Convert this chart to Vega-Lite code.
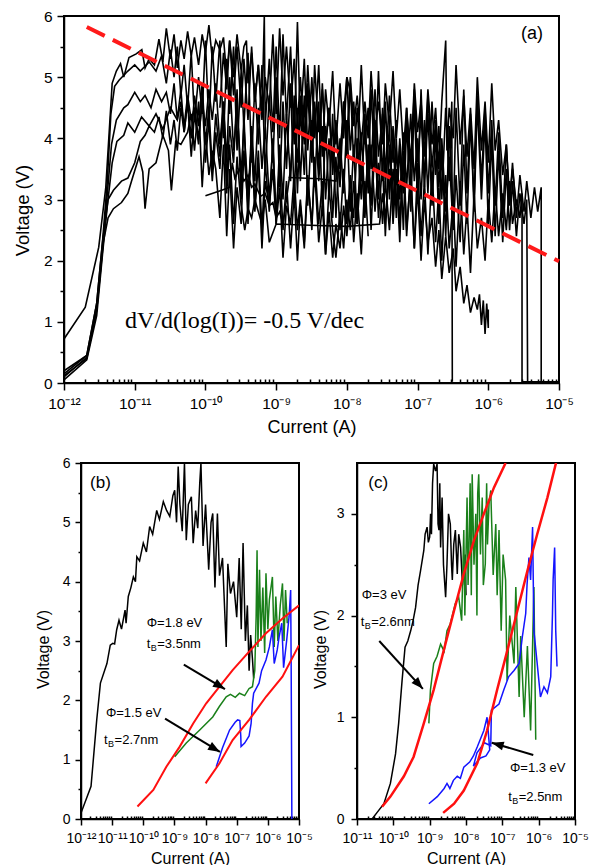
{
"$schema": "https://vega.github.io/schema/vega-lite/v6.json",
"autosize": {"type": "none"},
"padding": {"left": 64, "top": 16, "right": 529, "bottom": 849},
"background": "white",
"config": {
  "font": "Liberation Sans",
  "view": {"stroke": "black", "strokeWidth": 2},
  "axis": {"grid": false, "domainColor": "black", "domainWidth": 1.5, "tickColor": "black", "tickWidth": 1.5, "labelColor": "black", "titleColor": "black", "titleFontWeight": "normal", "labelFont": "Liberation Sans", "titleFont": "Liberation Sans", "labelOverlap": false, "labelFlush": false}
},
"datasets": {
  "a": [
{"s":1,"I":1e-12,"V":0.72},{"s":1,"I":2e-12,"V":1.24},{"s":1,"I":3.1e-12,"V":2.22},{"s":1,"I":3.9e-12,"V":3.2},{"s":1,"I":4.8e-12,"V":4.9},{"s":1,"I":5.5e-12,"V":5.1},{"s":1,"I":6.3e-12,"V":5.22},{"s":1,"I":7e-12,"V":5.0},{"s":1,"I":8.3e-12,"V":5.32},{"s":1,"I":1.05e-11,"V":5.38},{"s":1,"I":1.26e-11,"V":5.45},{"s":1,"I":1.4e-11,"V":5.15},{"s":1,"I":1.6e-11,"V":5.3},{"s":1,"I":1.9e-11,"V":5.2},{"s":1,"I":2.2e-11,"V":5.62},{"s":1,"I":2.5e-11,"V":5.25},{"s":1,"I":2.8e-11,"V":5.8},{"s":1,"I":3.2e-11,"V":5.3},{"s":1,"I":3.6e-11,"V":5.7},{"s":1,"I":4e-11,"V":5.15},{"s":1,"I":4.5e-11,"V":5.6},{"s":1,"I":5e-11,"V":5.3},{"s":1,"I":5.6e-11,"V":5.75},{"s":1,"I":6.3e-11,"V":5.35},{"s":1,"I":7e-11,"V":5.65},{"s":1,"I":8e-11,"V":5.2},{"s":1,"I":9e-11,"V":5.7},{"s":1,"I":1e-10,"V":5.4},{"s":1,"I":1.12e-10,"V":5.85},{"s":1,"I":1.25e-10,"V":5.3},{"s":1,"I":1.4e-10,"V":5.6},{"s":1,"I":1.6e-10,"V":5.45},{"s":1,"I":1.8e-10,"V":5.65},{"s":1,"I":2e-10,"V":5.0},{"s":1,"I":2.2e-10,"V":5.6},{"s":1,"I":2.5e-10,"V":4.7},{"s":1,"I":2.8e-10,"V":5.5},{"s":1,"I":3.2e-10,"V":4.5},{"s":1,"I":3.5e-10,"V":5.3},{"s":1,"I":4e-10,"V":4.3},{"s":1,"I":4.5e-10,"V":5.5},{"s":1,"I":5e-10,"V":4.6},{"s":1,"I":5.6e-10,"V":5.2},{"s":1,"I":6.3e-10,"V":4.4},{"s":1,"I":6.8e-10,"V":6.0},{"s":1,"I":7e-10,"V":4.2},{"s":1,"I":8e-10,"V":5.3},{"s":1,"I":9e-10,"V":4.1},{"s":1,"I":1e-9,"V":5.5},{"s":1,"I":1.12e-9,"V":4.0},{"s":1,"I":1.25e-9,"V":5.7},{"s":1,"I":1.4e-9,"V":4.3},{"s":1,"I":1.6e-9,"V":5.5},{"s":1,"I":1.8e-9,"V":3.9},{"s":1,"I":2e-9,"V":5.9},{"s":1,"I":2.2e-9,"V":4.2},{"s":1,"I":2.5e-9,"V":5.3},{"s":1,"I":2.8e-9,"V":3.8},{"s":1,"I":3.2e-9,"V":5.0},{"s":1,"I":3.5e-9,"V":4.0},{"s":1,"I":4e-9,"V":5.2},{"s":1,"I":4.5e-9,"V":3.7},{"s":1,"I":5e-9,"V":4.8},{"s":1,"I":5.6e-9,"V":4.2},{"s":1,"I":6.3e-9,"V":5.1},{"s":1,"I":7e-9,"V":3.9},{"s":1,"I":8e-9,"V":4.9},{"s":1,"I":9e-9,"V":4.0},{"s":1,"I":1e-8,"V":5.0},{"s":1,"I":1.12e-8,"V":3.8},{"s":1,"I":1.25e-8,"V":4.6},{"s":1,"I":1.4e-8,"V":3.6},{"s":1,"I":1.6e-8,"V":5.2},{"s":1,"I":1.8e-8,"V":3.9},{"s":1,"I":2e-8,"V":4.5},{"s":1,"I":2.2e-8,"V":3.5},{"s":1,"I":2.5e-8,"V":4.8},{"s":1,"I":2.8e-8,"V":3.7},{"s":1,"I":3.2e-8,"V":4.4},{"s":1,"I":3.5e-8,"V":3.4},{"s":1,"I":4e-8,"V":4.7},{"s":1,"I":4.5e-8,"V":3.6},{"s":1,"I":5e-8,"V":4.3},
{"s":2,"I":1e-12,"V":0.15},{"s":2,"I":2.1e-12,"V":0.45},{"s":2,"I":2.9e-12,"V":1.3},{"s":2,"I":3.5e-12,"V":2.3},{"s":2,"I":4.1e-12,"V":3.3},{"s":2,"I":4.6e-12,"V":4.4},{"s":2,"I":5.2e-12,"V":4.85},{"s":2,"I":6e-12,"V":4.95},{"s":2,"I":8e-12,"V":5.1},{"s":2,"I":1e-11,"V":5.2},{"s":2,"I":1.2e-11,"V":5.1},{"s":2,"I":1.6e-11,"V":5.25},{"s":2,"I":2e-11,"V":5.1},{"s":2,"I":2.4e-11,"V":5.35},{"s":2,"I":2.8e-11,"V":4.9},{"s":2,"I":3.2e-11,"V":5.45},{"s":2,"I":3.6e-11,"V":5.0},{"s":2,"I":4e-11,"V":5.5},{"s":2,"I":4.5e-11,"V":4.7},{"s":2,"I":5e-11,"V":5.2},{"s":2,"I":5.6e-11,"V":4.5},{"s":2,"I":6.3e-11,"V":5.4},{"s":2,"I":7e-11,"V":4.3},{"s":2,"I":8e-11,"V":5.0},{"s":2,"I":9e-11,"V":4.4},{"s":2,"I":1e-10,"V":5.6},{"s":2,"I":1.12e-10,"V":4.2},{"s":2,"I":1.25e-10,"V":5.5},{"s":2,"I":1.4e-10,"V":4.6},{"s":2,"I":1.6e-10,"V":5.6},{"s":2,"I":1.8e-10,"V":4.0},{"s":2,"I":2e-10,"V":5.3},{"s":2,"I":2.2e-10,"V":4.4},{"s":2,"I":2.5e-10,"V":5.5},{"s":2,"I":2.8e-10,"V":3.8},{"s":2,"I":3.2e-10,"V":5.1},{"s":2,"I":3.5e-10,"V":4.2},{"s":2,"I":4e-10,"V":5.4},{"s":2,"I":4.5e-10,"V":3.6},{"s":2,"I":5e-10,"V":4.9},{"s":2,"I":5.6e-10,"V":3.9},{"s":2,"I":6.3e-10,"V":5.2},{"s":2,"I":7e-10,"V":3.4},{"s":2,"I":8e-10,"V":4.7},{"s":2,"I":9e-10,"V":3.6},{"s":2,"I":1e-9,"V":5.0},{"s":2,"I":1.12e-9,"V":3.2},{"s":2,"I":1.25e-9,"V":4.6},{"s":2,"I":1.4e-9,"V":3.5},{"s":2,"I":1.6e-9,"V":4.9},{"s":2,"I":1.8e-9,"V":3.0},{"s":2,"I":2e-9,"V":4.5},{"s":2,"I":2.2e-9,"V":3.3},{"s":2,"I":2.5e-9,"V":4.7},{"s":2,"I":2.8e-9,"V":2.9},{"s":2,"I":3.2e-9,"V":4.3},{"s":2,"I":3.5e-9,"V":3.2},{"s":2,"I":4e-9,"V":4.6},{"s":2,"I":4.5e-9,"V":2.8},{"s":2,"I":5e-9,"V":4.2},{"s":2,"I":5.6e-9,"V":3.0},{"s":2,"I":6.3e-9,"V":4.4},{"s":2,"I":7e-9,"V":2.7},{"s":2,"I":8e-9,"V":4.0},{"s":2,"I":9e-9,"V":3.1},{"s":2,"I":1e-8,"V":4.3},{"s":2,"I":1.12e-8,"V":2.8},{"s":2,"I":1.25e-8,"V":3.9},{"s":2,"I":1.4e-8,"V":2.6},{"s":2,"I":1.6e-8,"V":4.1},{"s":2,"I":1.8e-8,"V":2.9},{"s":2,"I":2e-8,"V":3.8},{"s":2,"I":2.2e-8,"V":2.5},{"s":2,"I":2.5e-8,"V":4.0},{"s":2,"I":2.8e-8,"V":2.7},{"s":2,"I":3.2e-8,"V":3.6},{"s":2,"I":3.5e-8,"V":2.4},{"s":2,"I":4e-8,"V":3.9},{"s":2,"I":4.5e-8,"V":2.6},{"s":2,"I":5e-8,"V":3.5},{"s":2,"I":5.6e-8,"V":2.3},{"s":2,"I":6.3e-8,"V":3.8},{"s":2,"I":7e-8,"V":2.5},{"s":2,"I":8e-8,"V":3.4},{"s":2,"I":9e-8,"V":2.2},{"s":2,"I":1e-7,"V":3.6},{"s":2,"I":1.12e-7,"V":2.4},{"s":2,"I":1.25e-7,"V":3.3},{"s":2,"I":1.4e-7,"V":2.1},{"s":2,"I":1.6e-7,"V":3.5},{"s":2,"I":1.8e-7,"V":2.3},{"s":2,"I":2e-7,"V":3.2},{"s":2,"I":2.2e-7,"V":2.0},{"s":2,"I":2.5e-7,"V":3.4},{"s":2,"I":2.8e-7,"V":2.2},{"s":2,"I":3.2e-7,"V":3.0},{"s":2,"I":3.5e-7,"V":1.9},{"s":2,"I":4e-7,"V":3.3},{"s":2,"I":4.5e-7,"V":2.1},{"s":2,"I":5e-7,"V":2.9},{"s":2,"I":5.6e-7,"V":1.8},{"s":2,"I":6.3e-7,"V":3.1},{"s":2,"I":7e-7,"V":2.2},{"s":2,"I":8e-7,"V":2.7},{"s":2,"I":9e-7,"V":2.0},{"s":2,"I":1e-6,"V":3.0},{"s":2,"I":1.12e-6,"V":2.3},{"s":2,"I":1.25e-6,"V":3.2},{"s":2,"I":1.4e-6,"V":2.4},{"s":2,"I":1.6e-6,"V":3.1},{"s":2,"I":1.8e-6,"V":2.5},{"s":2,"I":2e-6,"V":3.3},{"s":2,"I":2.2e-6,"V":2.6},{"s":2,"I":2.5e-6,"V":3.0},{"s":2,"I":2.8e-6,"V":2.7},{"s":2,"I":3e-6,"V":3.1},{"s":2,"I":3e-6,"V":0.02},{"s":2,"I":1e-5,"V":0.02},
{"s":3,"I":1e-12,"V":0.1},{"s":3,"I":2.1e-12,"V":0.42},{"s":3,"I":2.9e-12,"V":1.2},{"s":3,"I":3.5e-12,"V":2.2},{"s":3,"I":4.1e-12,"V":3.1},{"s":3,"I":4.7e-12,"V":3.9},{"s":3,"I":5.5e-12,"V":4.3},{"s":3,"I":7e-12,"V":4.5},{"s":3,"I":8e-12,"V":4.55},{"s":3,"I":1e-11,"V":4.75},{"s":3,"I":1.2e-11,"V":4.6},{"s":3,"I":1.4e-11,"V":4.7},{"s":3,"I":1.7e-11,"V":4.5},{"s":3,"I":2e-11,"V":4.8},{"s":3,"I":2.4e-11,"V":4.6},{"s":3,"I":2.8e-11,"V":4.75},{"s":3,"I":3.2e-11,"V":4.4},{"s":3,"I":3.6e-11,"V":4.9},{"s":3,"I":4e-11,"V":4.3},{"s":3,"I":4.5e-11,"V":4.8},{"s":3,"I":5e-11,"V":4.1},{"s":3,"I":5.6e-11,"V":4.6},{"s":3,"I":6.3e-11,"V":4.0},{"s":3,"I":7e-11,"V":4.7},{"s":3,"I":8e-11,"V":4.2},{"s":3,"I":9e-11,"V":4.9},{"s":3,"I":1e-10,"V":3.9},{"s":3,"I":1.12e-10,"V":4.5},{"s":3,"I":1.25e-10,"V":3.5},{"s":3,"I":1.4e-10,"V":4.4},{"s":3,"I":1.6e-10,"V":3.7},{"s":3,"I":1.8e-10,"V":4.6},{"s":3,"I":2e-10,"V":3.3},{"s":3,"I":2.2e-10,"V":4.2},{"s":3,"I":2.5e-10,"V":3.6},{"s":3,"I":2.8e-10,"V":4.8},{"s":3,"I":3.2e-10,"V":3.0},{"s":3,"I":3.5e-10,"V":4.4},{"s":3,"I":4e-10,"V":2.6},{"s":3,"I":4.5e-10,"V":4.1},{"s":3,"I":5e-10,"V":2.9},{"s":3,"I":5.6e-10,"V":3.8},{"s":3,"I":6.3e-10,"V":2.5},{"s":3,"I":7e-10,"V":3.6},{"s":3,"I":8e-10,"V":2.8},{"s":3,"I":9e-10,"V":4.0},{"s":3,"I":1e-9,"V":2.6},{"s":3,"I":1.12e-9,"V":3.9},{"s":3,"I":1.25e-9,"V":3.0},{"s":3,"I":1.4e-9,"V":4.4},{"s":3,"I":1.6e-9,"V":3.3},{"s":3,"I":1.8e-9,"V":4.7},{"s":3,"I":2e-9,"V":3.1},{"s":3,"I":2.2e-9,"V":4.5},{"s":3,"I":2.5e-9,"V":3.4},{"s":3,"I":2.8e-9,"V":4.9},{"s":3,"I":3.2e-9,"V":3.6},{"s":3,"I":3.5e-9,"V":4.5},{"s":3,"I":4e-9,"V":3.3},{"s":3,"I":4.5e-9,"V":4.2},{"s":3,"I":5e-9,"V":3.0},{"s":3,"I":5.6e-9,"V":4.0},{"s":3,"I":6.3e-9,"V":2.7},{"s":3,"I":7e-9,"V":3.7},{"s":3,"I":8e-9,"V":2.5},{"s":3,"I":9e-9,"V":3.5},{"s":3,"I":1e-8,"V":2.6},{"s":3,"I":1.12e-8,"V":3.4},{"s":3,"I":1.25e-8,"V":2.3},{"s":3,"I":1.4e-8,"V":3.1},{"s":3,"I":1.6e-8,"V":2.1},{"s":3,"I":1.8e-8,"V":3.3},{"s":3,"I":2e-8,"V":2.4},
{"s":4,"I":1e-12,"V":0.05},{"s":4,"I":2.1e-12,"V":0.38},{"s":4,"I":2.9e-12,"V":1.1},{"s":4,"I":3.5e-12,"V":2.1},{"s":4,"I":4.1e-12,"V":2.9},{"s":4,"I":4.8e-12,"V":3.6},{"s":4,"I":5.6e-12,"V":3.95},{"s":4,"I":7e-12,"V":4.05},{"s":4,"I":8e-12,"V":4.25},{"s":4,"I":1e-11,"V":4.1},{"s":4,"I":1.25e-11,"V":4.35},{"s":4,"I":1.6e-11,"V":4.2},{"s":4,"I":2e-11,"V":4.4},{"s":4,"I":2.5e-11,"V":4.15},{"s":4,"I":3.2e-11,"V":4.5},{"s":4,"I":4e-11,"V":4.3},{"s":4,"I":4.5e-11,"V":4.6},{"s":4,"I":5e-11,"V":4.2},{"s":4,"I":5.6e-11,"V":4.7},{"s":4,"I":6.3e-11,"V":4.3},{"s":4,"I":7e-11,"V":4.5},{"s":4,"I":8e-11,"V":4.0},{"s":4,"I":9e-11,"V":4.6},{"s":4,"I":1e-10,"V":4.2},{"s":4,"I":1.12e-10,"V":4.8},{"s":4,"I":1.25e-10,"V":4.3},{"s":4,"I":1.4e-10,"V":4.9},{"s":4,"I":1.6e-10,"V":3.9},{"s":4,"I":1.8e-10,"V":4.6},{"s":4,"I":2e-10,"V":3.6},{"s":4,"I":2.2e-10,"V":5.0},{"s":4,"I":2.5e-10,"V":3.8},{"s":4,"I":2.8e-10,"V":4.5},{"s":4,"I":3.2e-10,"V":3.4},{"s":4,"I":3.5e-10,"V":4.2},{"s":4,"I":4e-10,"V":3.1},{"s":4,"I":4.5e-10,"V":3.9},{"s":4,"I":5e-10,"V":2.8},{"s":4,"I":5.6e-10,"V":3.6},{"s":4,"I":6.3e-10,"V":2.2},{"s":4,"I":7e-10,"V":3.3},{"s":4,"I":8e-10,"V":2.9},{"s":4,"I":9e-10,"V":3.5},{"s":4,"I":1e-9,"V":2.6},{"s":4,"I":1.12e-9,"V":3.2},{"s":4,"I":1.25e-9,"V":2.05},{"s":4,"I":1.4e-9,"V":2.9},{"s":4,"I":1.6e-9,"V":2.6},{"s":4,"I":1.8e-9,"V":3.4},{"s":4,"I":2e-9,"V":2.5},{"s":4,"I":2.2e-9,"V":3.0},{"s":4,"I":2.5e-9,"V":2.2},{"s":4,"I":2.8e-9,"V":3.3},{"s":4,"I":3.2e-9,"V":2.6},{"s":4,"I":3.5e-9,"V":3.5},{"s":4,"I":4e-9,"V":2.3},{"s":4,"I":4.5e-9,"V":2.9},{"s":4,"I":5e-9,"V":2.1},{"s":4,"I":5.6e-9,"V":3.2},{"s":4,"I":6.3e-9,"V":2.5},{"s":4,"I":7e-9,"V":2.05},{"s":4,"I":8e-9,"V":2.8},{"s":4,"I":9e-9,"V":2.2},{"s":4,"I":1e-8,"V":3.0},{"s":4,"I":1.12e-8,"V":2.5},{"s":4,"I":1.25e-8,"V":3.3},{"s":4,"I":1.4e-8,"V":2.6},{"s":4,"I":1.6e-8,"V":3.6},{"s":4,"I":1.8e-8,"V":2.7},{"s":4,"I":2e-8,"V":3.9},{"s":4,"I":2.2e-8,"V":2.9},{"s":4,"I":2.5e-8,"V":4.3},{"s":4,"I":2.8e-8,"V":3.0},{"s":4,"I":3.2e-8,"V":4.5},{"s":4,"I":3.5e-8,"V":3.2},{"s":4,"I":4e-8,"V":4.2},{"s":4,"I":4.5e-8,"V":2.8},{"s":4,"I":5e-8,"V":4.0},{"s":4,"I":5.6e-8,"V":2.6},{"s":4,"I":6.3e-8,"V":3.7},{"s":4,"I":7e-8,"V":2.4},{"s":4,"I":8e-8,"V":3.5},{"s":4,"I":9e-8,"V":2.2},{"s":4,"I":1e-7,"V":3.2},{"s":4,"I":1.12e-7,"V":2.0},{"s":4,"I":1.25e-7,"V":3.0},{"s":4,"I":1.4e-7,"V":2.3},{"s":4,"I":1.6e-7,"V":2.7},{"s":4,"I":1.8e-7,"V":1.9},{"s":4,"I":2e-7,"V":2.5},{"s":4,"I":2.2e-7,"V":1.7},{"s":4,"I":2.5e-7,"V":2.4},{"s":4,"I":2.8e-7,"V":1.8},{"s":4,"I":3.2e-7,"V":2.2},{"s":4,"I":3.5e-7,"V":1.5},{"s":4,"I":4e-7,"V":1.9},{"s":4,"I":4.5e-7,"V":1.3},{"s":4,"I":5e-7,"V":1.6},{"s":4,"I":5.6e-7,"V":1.15},{"s":4,"I":6.3e-7,"V":1.4},{"s":4,"I":7e-7,"V":1.2},{"s":4,"I":7.5e-7,"V":1.45},{"s":4,"I":8e-7,"V":0.95},{"s":4,"I":8.5e-7,"V":1.35},{"s":4,"I":9e-7,"V":0.8},{"s":4,"I":9.5e-7,"V":1.3},{"s":4,"I":1e-6,"V":0.9},{"s":4,"I":1e-6,"V":1.2},
{"s":5,"I":1e-12,"V":0.2},{"s":5,"I":2.1e-12,"V":0.45},{"s":5,"I":2.9e-12,"V":1.3},{"s":5,"I":3.5e-12,"V":2.3},{"s":5,"I":4.2e-12,"V":3.0},{"s":5,"I":5e-12,"V":3.15},{"s":5,"I":6.5e-12,"V":3.3},{"s":5,"I":8e-12,"V":3.35},{"s":5,"I":1e-11,"V":3.6},{"s":5,"I":1.2e-11,"V":3.95},{"s":5,"I":1.4e-11,"V":4.05},{"s":5,"I":1.6e-11,"V":4.2},{"s":5,"I":1.9e-11,"V":4.1},{"s":5,"I":2.2e-11,"V":4.35},{"s":5,"I":2.5e-11,"V":4.0},{"s":5,"I":2.8e-11,"V":4.45},{"s":5,"I":3.2e-11,"V":3.9},{"s":5,"I":3.6e-11,"V":4.3},{"s":5,"I":4e-11,"V":3.8},{"s":5,"I":4.5e-11,"V":4.5},{"s":5,"I":5e-11,"V":4.1},{"s":5,"I":5.6e-11,"V":4.6},{"s":5,"I":6.3e-11,"V":3.7},{"s":5,"I":7e-11,"V":4.4},{"s":5,"I":8e-11,"V":3.9},{"s":5,"I":9e-11,"V":4.7},{"s":5,"I":1e-10,"V":3.6},{"s":5,"I":1.12e-10,"V":4.3},{"s":5,"I":1.25e-10,"V":3.3},{"s":5,"I":1.4e-10,"V":4.1},{"s":5,"I":1.6e-10,"V":3.5},{"s":5,"I":1.8e-10,"V":4.5},{"s":5,"I":2e-10,"V":3.1},{"s":5,"I":2.2e-10,"V":3.9},{"s":5,"I":2.5e-10,"V":2.6},{"s":5,"I":2.8e-10,"V":3.7},{"s":5,"I":3.2e-10,"V":2.9},{"s":5,"I":3.6e-10,"V":2.5},{"s":5,"I":4e-10,"V":2.85},{"s":5,"I":4.5e-10,"V":2.7},{"s":5,"I":5e-10,"V":3.0},{"s":5,"I":5.6e-10,"V":2.8},{"s":5,"I":6.3e-10,"V":2.6},{"s":5,"I":7e-10,"V":3.0},{"s":5,"I":8e-10,"V":2.3},{"s":5,"I":1e-9,"V":2.6},{"s":5,"I":3e-9,"V":2.58},{"s":5,"I":1e-8,"V":2.56},{"s":5,"I":2.9e-8,"V":2.6},{"s":5,"I":3.2e-8,"V":3.1},{"s":5,"I":3.5e-8,"V":2.7},{"s":5,"I":4e-8,"V":3.5},{"s":5,"I":4.5e-8,"V":2.9},{"s":5,"I":5e-8,"V":3.8},{"s":5,"I":5.6e-8,"V":3.0},{"s":5,"I":6.3e-8,"V":4.1},{"s":5,"I":7e-8,"V":3.2},{"s":5,"I":8e-8,"V":4.4},{"s":5,"I":9e-8,"V":3.3},{"s":5,"I":1e-7,"V":4.0},{"s":5,"I":1.12e-7,"V":3.0},{"s":5,"I":1.25e-7,"V":4.3},{"s":5,"I":1.4e-7,"V":3.1},{"s":5,"I":1.6e-7,"V":4.6},{"s":5,"I":1.8e-7,"V":3.4},{"s":5,"I":2e-7,"V":4.2},{"s":5,"I":2.2e-7,"V":3.0},{"s":5,"I":2.5e-7,"V":4.5},{"s":5,"I":2.8e-7,"V":3.3},{"s":5,"I":3.05e-7,"V":4.6},{"s":5,"I":3.1e-7,"V":0.02},
{"s":6,"I":1e-12,"V":0.12},{"s":6,"I":2.1e-12,"V":0.4},{"s":6,"I":2.9e-12,"V":1.2},{"s":6,"I":3.6e-12,"V":2.3},{"s":6,"I":4.2e-12,"V":2.7},{"s":6,"I":5e-12,"V":2.85},{"s":6,"I":6.5e-12,"V":2.95},{"s":6,"I":8e-12,"V":3.1},{"s":6,"I":9e-12,"V":3.3},{"s":6,"I":1.15e-11,"V":3.7},{"s":6,"I":1.3e-11,"V":3.45},{"s":6,"I":1.4e-11,"V":2.85},{"s":6,"I":1.6e-11,"V":3.5},{"s":6,"I":2e-11,"V":3.6},{"s":6,"I":2.5e-11,"V":4.05},{"s":6,"I":3e-11,"V":3.8},{"s":6,"I":3.3e-11,"V":3.15},{"s":6,"I":3.8e-11,"V":3.95},{"s":6,"I":4.5e-11,"V":3.9},{"s":6,"I":5.6e-11,"V":4.1},{"s":6,"I":6.3e-11,"V":4.4},{"s":6,"I":7e-11,"V":3.8},{"s":6,"I":8e-11,"V":4.6},{"s":6,"I":9e-11,"V":3.2},{"s":6,"I":1e-10,"V":4.1},{"s":6,"I":1.12e-10,"V":3.4},{"s":6,"I":1.25e-10,"V":3.8},{"s":6,"I":1.4e-10,"V":3.5},{"s":6,"I":1.6e-10,"V":2.7},{"s":6,"I":1.8e-10,"V":3.9},{"s":6,"I":2e-10,"V":2.4},{"s":6,"I":2.2e-10,"V":3.5},{"s":6,"I":2.5e-10,"V":2.2},{"s":6,"I":2.8e-10,"V":3.2},{"s":6,"I":3.2e-10,"V":2.6},{"s":6,"I":3.5e-10,"V":3.8},{"s":6,"I":4e-10,"V":2.9},{"s":6,"I":4.5e-10,"V":4.2},{"s":6,"I":5e-10,"V":3.3},{"s":6,"I":5.6e-10,"V":4.5},{"s":6,"I":6.3e-10,"V":3.5},{"s":6,"I":7e-10,"V":4.2},{"s":6,"I":8e-10,"V":3.0},{"s":6,"I":9e-10,"V":3.9},{"s":6,"I":1e-9,"V":2.7},{"s":6,"I":1.12e-9,"V":3.6},{"s":6,"I":1.25e-9,"V":2.5},{"s":6,"I":1.4e-9,"V":3.3},{"s":6,"I":1.6e-9,"V":2.2},{"s":6,"I":1.8e-9,"V":3.1},{"s":6,"I":2e-9,"V":2.0},{"s":6,"I":2.2e-9,"V":2.9},{"s":6,"I":2.5e-9,"V":2.3},{"s":6,"I":2.8e-9,"V":3.4},{"s":6,"I":3.2e-9,"V":2.5},{"s":6,"I":3.5e-9,"V":3.7},{"s":6,"I":4e-9,"V":2.6},{"s":6,"I":4.5e-9,"V":3.3},{"s":6,"I":5e-9,"V":2.1},{"s":6,"I":5.6e-9,"V":2.8},{"s":6,"I":6.3e-9,"V":2.05},{"s":6,"I":7e-9,"V":2.6},{"s":6,"I":8e-9,"V":2.2},{"s":6,"I":9e-9,"V":2.9},{"s":6,"I":1e-8,"V":2.4},{"s":6,"I":1.12e-8,"V":3.1},{"s":6,"I":1.25e-8,"V":2.7},{"s":6,"I":1.4e-8,"V":4.0},{"s":6,"I":1.6e-8,"V":3.0},{"s":6,"I":1.8e-8,"V":4.4},{"s":6,"I":2e-8,"V":3.2},{"s":6,"I":2.2e-8,"V":4.8},{"s":6,"I":2.5e-8,"V":3.5},{"s":6,"I":2.8e-8,"V":5.1},{"s":6,"I":3.2e-8,"V":3.3},{"s":6,"I":3.5e-8,"V":4.6},{"s":6,"I":4e-8,"V":3.0},{"s":6,"I":4.5e-8,"V":4.2},{"s":6,"I":5e-8,"V":2.7},{"s":6,"I":5.6e-8,"V":3.9},{"s":6,"I":6.3e-8,"V":2.5},{"s":6,"I":7e-8,"V":4.3},{"s":6,"I":8e-8,"V":2.8},{"s":6,"I":9e-8,"V":4.6},{"s":6,"I":1e-7,"V":3.0},{"s":6,"I":1.12e-7,"V":4.8},{"s":6,"I":1.25e-7,"V":3.2},{"s":6,"I":1.4e-7,"V":4.4},{"s":6,"I":1.6e-7,"V":2.9},{"s":6,"I":1.8e-7,"V":4.1},{"s":6,"I":2e-7,"V":2.6},{"s":6,"I":2.2e-7,"V":3.8},{"s":6,"I":2.5e-7,"V":2.4},{"s":6,"I":2.8e-7,"V":4.2},{"s":6,"I":3.2e-7,"V":2.7},{"s":6,"I":3.5e-7,"V":4.5},{"s":6,"I":4e-7,"V":2.9},{"s":6,"I":4.5e-7,"V":4.8},{"s":6,"I":5e-7,"V":3.1},{"s":6,"I":5.6e-7,"V":4.4},{"s":6,"I":6.3e-7,"V":2.8},{"s":6,"I":7e-7,"V":4.6},{"s":6,"I":8e-7,"V":3.0},{"s":6,"I":9e-7,"V":4.3},{"s":6,"I":1e-6,"V":2.6},{"s":6,"I":1.12e-6,"V":4.0},{"s":6,"I":1.25e-6,"V":2.4},{"s":6,"I":1.4e-6,"V":3.8},{"s":6,"I":1.6e-6,"V":2.3},{"s":6,"I":1.8e-6,"V":3.5},{"s":6,"I":2e-6,"V":2.5},{"s":6,"I":2.2e-6,"V":3.3},{"s":6,"I":2.5e-6,"V":2.4},{"s":6,"I":2.8e-6,"V":3.1},{"s":6,"I":3.2e-6,"V":2.6},{"s":6,"I":3.5e-6,"V":3.0},{"s":6,"I":3.6e-6,"V":0.02},
{"s":7,"I":1e-10,"V":3.06},{"s":7,"I":1.7e-10,"V":3.15},{"s":7,"I":2.2e-10,"V":3.2},{"s":7,"I":2.4e-10,"V":3.6},{"s":7,"I":2.6e-10,"V":3.35},{"s":7,"I":3e-10,"V":3.5},{"s":7,"I":3.5e-10,"V":3.3},{"s":7,"I":4e-10,"V":3.4},{"s":7,"I":4.5e-10,"V":3.2},{"s":7,"I":5e-10,"V":3.25},{"s":7,"I":6e-10,"V":3.05},{"s":7,"I":7e-10,"V":3.1},{"s":7,"I":8e-10,"V":2.9},{"s":7,"I":9e-10,"V":2.95},{"s":7,"I":1e-9,"V":2.7},{"s":7,"I":1.12e-9,"V":2.8},{"s":7,"I":1.25e-9,"V":2.6},{"s":7,"I":1.4e-9,"V":3.0},{"s":7,"I":1.6e-9,"V":3.5},{"s":7,"I":1.8e-9,"V":4.3},{"s":7,"I":2e-9,"V":3.6},{"s":7,"I":2.2e-9,"V":4.7},{"s":7,"I":2.5e-9,"V":3.9},{"s":7,"I":2.8e-9,"V":5.2},{"s":7,"I":3.2e-9,"V":4.0},{"s":7,"I":3.5e-9,"V":4.6},{"s":7,"I":4e-9,"V":3.5},{"s":7,"I":4.5e-9,"V":4.9},{"s":7,"I":5e-9,"V":3.8},{"s":7,"I":5.6e-9,"V":4.5},{"s":7,"I":6.3e-9,"V":3.4},{"s":7,"I":7e-9,"V":4.2},{"s":7,"I":8e-9,"V":3.2},{"s":7,"I":9e-9,"V":4.6},{"s":7,"I":1e-8,"V":3.7},{"s":7,"I":1.12e-8,"V":4.9},{"s":7,"I":1.25e-8,"V":3.6},{"s":7,"I":1.4e-8,"V":4.5},{"s":7,"I":1.6e-8,"V":3.3},{"s":7,"I":1.8e-8,"V":4.2},{"s":7,"I":2e-8,"V":3.1},{"s":7,"I":2.2e-8,"V":3.9},{"s":7,"I":2.5e-8,"V":2.8},{"s":7,"I":2.8e-8,"V":3.6},{"s":7,"I":3.2e-8,"V":2.6},{"s":7,"I":3.5e-8,"V":3.3},{"s":7,"I":4e-8,"V":2.5},{"s":7,"I":4.5e-8,"V":3.5},{"s":7,"I":5e-8,"V":2.9},{"s":7,"I":5.6e-8,"V":4.0},{"s":7,"I":6.3e-8,"V":3.1},{"s":7,"I":7e-8,"V":4.5},{"s":7,"I":8e-8,"V":3.4},{"s":7,"I":9e-8,"V":4.8},{"s":7,"I":1e-7,"V":3.6},{"s":7,"I":1.12e-7,"V":4.4},{"s":7,"I":1.25e-7,"V":3.3},{"s":7,"I":1.4e-7,"V":4.7},{"s":7,"I":1.6e-7,"V":3.5},{"s":7,"I":1.8e-7,"V":4.3},{"s":7,"I":2e-7,"V":3.2},{"s":7,"I":2.2e-7,"V":4.0},{"s":7,"I":2.5e-7,"V":2.8},{"s":7,"I":2.8e-7,"V":3.7},{"s":7,"I":3.2e-7,"V":2.5},{"s":7,"I":3.5e-7,"V":3.4},{"s":7,"I":4e-7,"V":2.3},{"s":7,"I":4.5e-7,"V":3.9},{"s":7,"I":5e-7,"V":2.6},{"s":7,"I":5.6e-7,"V":4.3},{"s":7,"I":6.3e-7,"V":3.0},{"s":7,"I":7e-7,"V":4.7},{"s":7,"I":8e-7,"V":3.3},{"s":7,"I":9e-7,"V":4.5},{"s":7,"I":1e-6,"V":3.1},{"s":7,"I":1.12e-6,"V":4.3},{"s":7,"I":1.25e-6,"V":2.9},{"s":7,"I":1.4e-6,"V":4.1},{"s":7,"I":1.6e-6,"V":2.7},{"s":7,"I":1.8e-6,"V":3.9},{"s":7,"I":2e-6,"V":2.9},{"s":7,"I":2.2e-6,"V":3.6},{"s":7,"I":2.5e-6,"V":2.7},{"s":7,"I":2.8e-6,"V":3.4},{"s":7,"I":3.2e-6,"V":2.8},{"s":7,"I":3.5e-6,"V":3.3},{"s":7,"I":4e-6,"V":2.7},{"s":7,"I":4.5e-6,"V":3.2},{"s":7,"I":5e-6,"V":2.8},{"s":7,"I":5.6e-6,"V":3.2},{"s":7,"I":5.6e-6,"V":0.02},{"s":7,"I":1e-5,"V":0.02},
{"s":8,"I":1.6e-10,"V":4.5},{"s":8,"I":1.8e-10,"V":5.4},{"s":8,"I":2e-10,"V":4.8},{"s":8,"I":2.2e-10,"V":5.6},{"s":8,"I":2.5e-10,"V":5.0},{"s":8,"I":2.8e-10,"V":5.7},{"s":8,"I":3.2e-10,"V":5.1},{"s":8,"I":3.5e-10,"V":5.5},{"s":8,"I":3.8e-10,"V":5.6},{"s":8,"I":4e-10,"V":4.9},{"s":8,"I":4.5e-10,"V":5.4},{"s":8,"I":5e-10,"V":4.6},{"s":8,"I":5.6e-10,"V":5.2},{"s":8,"I":6.3e-10,"V":4.3},{"s":8,"I":7e-10,"V":5.0},{"s":8,"I":8e-10,"V":4.5},{"s":8,"I":9e-10,"V":5.7},{"s":8,"I":1e-9,"V":4.4},{"s":8,"I":1.12e-9,"V":5.8},{"s":8,"I":1.25e-9,"V":4.7},{"s":8,"I":1.4e-9,"V":5.5},{"s":8,"I":1.6e-9,"V":4.5},{"s":8,"I":1.8e-9,"V":5.3},{"s":8,"I":2e-9,"V":4.2},{"s":8,"I":2.2e-9,"V":5.0},{"s":8,"I":2.5e-9,"V":4.0},{"s":8,"I":2.8e-9,"V":4.7},{"s":8,"I":3.2e-9,"V":3.8},{"s":8,"I":3.5e-9,"V":5.2},{"s":8,"I":4e-9,"V":4.1},{"s":8,"I":4.5e-9,"V":4.8},{"s":8,"I":5e-9,"V":3.9},{"s":8,"I":5.6e-9,"V":4.5},{"s":8,"I":6.3e-9,"V":3.6},{"s":8,"I":7e-9,"V":4.3},{"s":8,"I":8e-9,"V":3.5},{"s":8,"I":9e-9,"V":4.6},{"s":8,"I":1e-8,"V":4.0},{"s":8,"I":1.12e-8,"V":5.0},{"s":8,"I":1.25e-8,"V":4.2},{"s":8,"I":1.4e-8,"V":4.7},{"s":8,"I":1.6e-8,"V":3.9},{"s":8,"I":1.8e-8,"V":4.6},{"s":8,"I":2e-8,"V":4.0},{"s":8,"I":2.2e-8,"V":5.1},{"s":8,"I":2.5e-8,"V":4.1},{"s":8,"I":2.8e-8,"V":4.6},{"s":8,"I":3.2e-8,"V":3.9},{"s":8,"I":3.5e-8,"V":4.9},{"s":8,"I":4e-8,"V":4.2},{"s":8,"I":4.5e-8,"V":5.1},{"s":8,"I":5e-8,"V":4.0},{"s":8,"I":5.6e-8,"V":4.8},{"s":8,"I":6.3e-8,"V":3.8},{"s":8,"I":7e-8,"V":4.5},{"s":8,"I":8e-8,"V":3.6},{"s":8,"I":9e-8,"V":4.9},{"s":8,"I":1e-7,"V":4.1},{"s":8,"I":1.12e-7,"V":4.6},{"s":8,"I":1.25e-7,"V":3.7},{"s":8,"I":1.4e-7,"V":4.8},{"s":8,"I":1.6e-7,"V":3.9},{"s":8,"I":1.8e-7,"V":4.5},{"s":8,"I":2e-7,"V":3.5},{"s":8,"I":2.2e-7,"V":4.6},{"s":8,"I":2.5e-7,"V":5.6},{"s":8,"I":2.6e-7,"V":3.8},{"s":8,"I":2.8e-7,"V":4.5},{"s":8,"I":3.2e-7,"V":4.0},{"s":8,"I":3.5e-7,"V":5.2},{"s":8,"I":4e-7,"V":3.9},{"s":8,"I":4.5e-7,"V":4.7},{"s":8,"I":5e-7,"V":3.7},{"s":8,"I":5.6e-7,"V":4.5},{"s":8,"I":6.3e-7,"V":3.5},{"s":8,"I":7e-7,"V":5.0},{"s":8,"I":8e-7,"V":3.8},{"s":8,"I":9e-7,"V":4.6},{"s":8,"I":1e-6,"V":3.6},{"s":8,"I":1.12e-6,"V":4.9},{"s":8,"I":1.25e-6,"V":3.8},{"s":8,"I":1.4e-6,"V":4.3},{"s":8,"I":1.6e-6,"V":3.4},{"s":8,"I":1.8e-6,"V":3.9},{"s":8,"I":2e-6,"V":3.0},{"s":8,"I":2.2e-6,"V":3.5},{"s":8,"I":2.5e-6,"V":2.9},
{"s":9,"I":1.5e-9,"V":3.36},{"s":9,"I":4e-9,"V":3.34},{"s":9,"I":7e-9,"V":3.3},{"s":9,"I":8e-9,"V":3.8},{"s":9,"I":9e-9,"V":4.4},{"s":9,"I":1e-8,"V":5.0},{"s":9,"I":1.1e-8,"V":4.8}
  ],
  "afit": [{"I": 2.1e-12, "V": 5.82}, {"I": 1e-5, "V": 1.99}],
  "atxt": [{"I": 7.3e-12, "V": 1.01, "txt": "dV/d(log(I))= -0.5 V/dec"}],
  "alab": [{"I": 2.9e-6, "V": 5.71, "txt": "(a)"}],
  "b": [
{"s":"k","I":1e-12,"V":0.1},{"s":"k","I":2.1e-12,"V":0.55},{"s":"k","I":3.2e-12,"V":1.67},{"s":"k","I":4.2e-12,"V":2.29},{"s":"k","I":6.8e-12,"V":2.62},{"s":"k","I":8.7e-12,"V":2.93},{"s":"k","I":1.05e-11,"V":2.96},{"s":"k","I":1.2e-11,"V":2.95},{"s":"k","I":1.4e-11,"V":3.19},{"s":"k","I":1.66e-11,"V":3.35},{"s":"k","I":2e-11,"V":3.2},{"s":"k","I":2.6e-11,"V":3.52},{"s":"k","I":2.8e-11,"V":3.3},{"s":"k","I":3.3e-11,"V":3.75},{"s":"k","I":4e-11,"V":3.9},{"s":"k","I":4.8e-11,"V":4.08},{"s":"k","I":5.6e-11,"V":4.0},{"s":"k","I":6.2e-11,"V":4.42},{"s":"k","I":7.6e-11,"V":4.35},{"s":"k","I":1e-10,"V":4.65},{"s":"k","I":1.26e-10,"V":4.5},{"s":"k","I":1.6e-10,"V":4.93},{"s":"k","I":2e-10,"V":4.8},{"s":"k","I":2.7e-10,"V":5.2},{"s":"k","I":3.3e-10,"V":5.05},{"s":"k","I":4.4e-10,"V":5.35},{"s":"k","I":5.6e-10,"V":5.2},{"s":"k","I":7.1e-10,"V":5.1},{"s":"k","I":8.9e-10,"V":5.45},{"s":"k","I":1.02e-9,"V":5.54},{"s":"k","I":1.17e-9,"V":5.0},{"s":"k","I":1.32e-9,"V":5.94},{"s":"k","I":1.5e-9,"V":5.3},{"s":"k","I":1.78e-9,"V":4.85},{"s":"k","I":2.1e-9,"V":6.0},{"s":"k","I":2.4e-9,"V":4.7},{"s":"k","I":2.8e-9,"V":5.3},{"s":"k","I":3.5e-9,"V":5.43},{"s":"k","I":4e-9,"V":4.65},{"s":"k","I":4.8e-9,"V":5.2},{"s":"k","I":5.6e-9,"V":4.9},{"s":"k","I":6.5e-9,"V":5.66},{"s":"k","I":7.1e-9,"V":6.0},{"s":"k","I":8.3e-9,"V":4.6},{"s":"k","I":1e-8,"V":5.3},{"s":"k","I":1.26e-8,"V":4.2},{"s":"k","I":1.5e-8,"V":5.0},{"s":"k","I":1.7e-8,"V":5.15},{"s":"k","I":2e-8,"V":3.9},{"s":"k","I":2.4e-8,"V":5.15},{"s":"k","I":2.8e-8,"V":4.1},{"s":"k","I":3.5e-8,"V":4.4},{"s":"k","I":4.6e-8,"V":2.9},{"s":"k","I":5.2e-8,"V":4.3},{"s":"k","I":6.3e-8,"V":3.8},{"s":"k","I":7.9e-8,"V":4.0},{"s":"k","I":1e-7,"V":3.4},{"s":"k","I":1.2e-7,"V":4.4},{"s":"k","I":1.4e-7,"V":3.2},{"s":"k","I":1.6e-7,"V":4.65},{"s":"k","I":1.9e-7,"V":3.0},{"s":"k","I":2.2e-7,"V":3.6},{"s":"k","I":2.5e-7,"V":2.5},{"s":"k","I":2.8e-7,"V":3.1},{"s":"k","I":3.2e-7,"V":2.7},{"s":"k","I":3.5e-7,"V":2.37},
{"s":"g","I":1.02e-9,"V":1.05},{"s":"g","I":2.4e-9,"V":1.28},{"s":"g","I":6.5e-9,"V":1.5},{"s":"g","I":1.7e-8,"V":1.72},{"s":"g","I":2.8e-8,"V":1.9},{"s":"g","I":4.6e-8,"V":2.06},{"s":"g","I":6.3e-8,"V":2.1},{"s":"g","I":9e-8,"V":2.05},{"s":"g","I":1.23e-7,"V":2.12},{"s":"g","I":1.8e-7,"V":2.08},{"s":"g","I":2.5e-7,"V":2.2},{"s":"g","I":3.2e-7,"V":2.23},{"s":"g","I":3.8e-7,"V":2.5},{"s":"g","I":4.2e-7,"V":3.41},{"s":"g","I":4.5e-7,"V":4.53},{"s":"g","I":4.8e-7,"V":2.9},{"s":"g","I":5.4e-7,"V":4.2},{"s":"g","I":6e-7,"V":3.0},{"s":"g","I":6.9e-7,"V":3.9},{"s":"g","I":7.9e-7,"V":2.8},{"s":"g","I":8.7e-7,"V":4.14},{"s":"g","I":1e-6,"V":3.2},{"s":"g","I":1.12e-6,"V":3.7},{"s":"g","I":1.4e-6,"V":4.08},{"s":"g","I":1.6e-6,"V":2.9},{"s":"g","I":1.8e-6,"V":3.75},{"s":"g","I":2.1e-6,"V":3.0},{"s":"g","I":2.5e-6,"V":3.6},{"s":"g","I":2.95e-6,"V":3.97},{"s":"g","I":3.3e-6,"V":3.0},{"s":"g","I":3.7e-6,"V":3.86},{"s":"g","I":4.2e-6,"V":3.3},
{"s":"u","I":2.2e-8,"V":0.88},{"s":"u","I":3.5e-8,"V":1.2},{"s":"u","I":5.9e-8,"V":1.5},{"s":"u","I":8.9e-8,"V":1.63},{"s":"u","I":1.07e-7,"V":1.67},{"s":"u","I":1.26e-7,"V":1.66},{"s":"u","I":1.35e-7,"V":1.4},{"s":"u","I":1.38e-7,"V":1.22},{"s":"u","I":1.8e-7,"V":1.28},{"s":"u","I":2.5e-7,"V":1.4},{"s":"u","I":2.9e-7,"V":1.61},{"s":"u","I":3.2e-7,"V":1.95},{"s":"u","I":3.5e-7,"V":2.12},{"s":"u","I":5.2e-7,"V":2.29},{"s":"u","I":6.3e-7,"V":2.5},{"s":"u","I":8.7e-7,"V":2.68},{"s":"u","I":1.12e-6,"V":2.9},{"s":"u","I":1.4e-6,"V":3.19},{"s":"u","I":1.6e-6,"V":2.62},{"s":"u","I":2e-6,"V":2.85},{"s":"u","I":2.3e-6,"V":3.07},{"s":"u","I":2.8e-6,"V":3.3},{"s":"u","I":3.2e-6,"V":2.55},{"s":"u","I":4e-6,"V":3.0},{"s":"u","I":4.8e-6,"V":3.41},{"s":"u","I":5.4e-6,"V":3.86},{"s":"u","I":5.6e-6,"V":2.6},{"s":"u","I":5.9e-6,"V":0.0}
  ],
  "bfit": [
{"s":1,"I":6.5e-11,"V":0.21},{"s":1,"I":2.1e-10,"V":0.49},{"s":1,"I":5.5e-10,"V":0.88},{"s":1,"I":1.48e-9,"V":1.22},{"s":1,"I":4e-9,"V":1.61},{"s":1,"I":1.05e-8,"V":1.95},{"s":1,"I":2.8e-8,"V":2.23},{"s":1,"I":7.4e-8,"V":2.51},{"s":1,"I":2.5e-7,"V":2.82},{"s":1,"I":8.7e-7,"V":3.13},{"s":1,"I":2.95e-6,"V":3.38},{"s":1,"I":1e-5,"V":3.6},
{"s":2,"I":1e-8,"V":0.6},{"s":2,"I":2.8e-8,"V":0.94},{"s":2,"I":7.4e-8,"V":1.33},{"s":2,"I":2.5e-7,"V":1.67},{"s":2,"I":8.7e-7,"V":2.06},{"s":2,"I":2.95e-6,"V":2.4},{"s":2,"I":1e-5,"V":2.93}
  ],
  "barr": [{"I": 2e-9, "V": 2.6, "I2": 4.2e-8, "V2": 2.19}, {"I": 5e-10, "V": 1.69, "I2": 2.9e-8, "V2": 1.13}],
  "bhead": [{"I": 4.2e-8, "V": 2.19}, {"I": 2.9e-8, "V": 1.13}],
  "btxt": [{"I": 1.29e-10, "V": 3.31, "txt": "Φ=1.8 eV"}, {"I": 6.3e-12, "V": 1.79, "txt": "Φ=1.5 eV"}],
  "bsub": [{"I": 1.29e-10, "V": 2.95, "t": "t", "b": "B", "r": "=3.5nm"}, {"I": 5.5e-12, "V": 1.33, "t": "t", "b": "B", "r": "=2.7nm"}],
  "blab": [{"I": 1.95e-12, "V": 5.67, "txt": "(b)"}],
  "c": [
{"s":"k","I":2.6e-11,"V":0},{"s":"k","I":3.5e-11,"V":0.06},{"s":"k","I":5.5e-11,"V":0.15},{"s":"k","I":8.3e-11,"V":0.35},{"s":"k","I":1.15e-10,"V":0.64},{"s":"k","I":1.4e-10,"V":0.94},{"s":"k","I":1.74e-10,"V":1.36},{"s":"k","I":2.1e-10,"V":1.69},{"s":"k","I":2.5e-10,"V":1.75},{"s":"k","I":3e-10,"V":1.85},{"s":"k","I":3.5e-10,"V":1.95},{"s":"k","I":4.1e-10,"V":2.08},{"s":"k","I":4.8e-10,"V":2.3},{"s":"k","I":5.6e-10,"V":2.44},{"s":"k","I":6.9e-10,"V":2.64},{"s":"k","I":7.5e-10,"V":2.8},{"s":"k","I":8.5e-10,"V":2.87},{"s":"k","I":9.2e-10,"V":2.72},{"s":"k","I":1e-9,"V":2.77},{"s":"k","I":1.06e-9,"V":3.0},{"s":"k","I":1.12e-9,"V":2.8},{"s":"k","I":1.2e-9,"V":3.3},{"s":"k","I":1.29e-9,"V":3.49},{"s":"k","I":1.45e-9,"V":3.42},{"s":"k","I":1.6e-9,"V":3.49},{"s":"k","I":1.7e-9,"V":2.9},{"s":"k","I":1.8e-9,"V":2.84},{"s":"k","I":1.9e-9,"V":3.3},{"s":"k","I":2e-9,"V":2.67},{"s":"k","I":2.2e-9,"V":3.16},{"s":"k","I":2.4e-9,"V":2.5},{"s":"k","I":2.75e-9,"V":2.18},{"s":"k","I":3e-9,"V":2.51},{"s":"k","I":3.3e-9,"V":3.0},{"s":"k","I":3.7e-9,"V":2.9},{"s":"k","I":4e-9,"V":2.5},{"s":"k","I":4.2e-9,"V":2.35},{"s":"k","I":4.6e-9,"V":2.7},{"s":"k","I":5.1e-9,"V":2.84},{"s":"k","I":5.75e-9,"V":2.41},{"s":"k","I":6.3e-9,"V":2.8},{"s":"k","I":7.1e-9,"V":2.67},{"s":"k","I":8e-9,"V":2.3},{"s":"k","I":8.7e-9,"V":2.44},{"s":"k","I":9.5e-9,"V":2.6},{"s":"k","I":1e-8,"V":2.2},
{"s":"g","I":9.5e-10,"V":0.94},{"s":"g","I":1.05e-9,"V":1.27},{"s":"g","I":1.29e-9,"V":1.53},{"s":"g","I":1.6e-9,"V":1.6},{"s":"g","I":2e-9,"V":1.72},{"s":"g","I":2.5e-9,"V":1.65},{"s":"g","I":3e-9,"V":1.85},{"s":"g","I":3.7e-9,"V":1.92},{"s":"g","I":5.1e-9,"V":2.12},{"s":"g","I":6.3e-9,"V":2.18},{"s":"g","I":7.6e-9,"V":1.95},{"s":"g","I":8.7e-9,"V":2.84},{"s":"g","I":9.3e-9,"V":2.0},{"s":"g","I":1e-8,"V":2.6},{"s":"g","I":1.07e-8,"V":3.16},{"s":"g","I":1.14e-8,"V":2.3},{"s":"g","I":1.2e-8,"V":2.6},{"s":"g","I":1.3e-8,"V":3.3},{"s":"g","I":1.4e-8,"V":2.2},{"s":"g","I":1.48e-8,"V":3.39},{"s":"g","I":1.66e-8,"V":2.5},{"s":"g","I":1.86e-8,"V":3.0},{"s":"g","I":2e-8,"V":2.0},{"s":"g","I":2.1e-8,"V":3.2},{"s":"g","I":2.24e-8,"V":3.39},{"s":"g","I":2.5e-8,"V":2.6},{"s":"g","I":2.8e-8,"V":3.16},{"s":"g","I":3e-8,"V":2.3},{"s":"g","I":3.4e-8,"V":2.51},{"s":"g","I":3.7e-8,"V":3.3},{"s":"g","I":3.9e-8,"V":2.7},{"s":"g","I":4.3e-8,"V":3.1},{"s":"g","I":4.8e-8,"V":3.23},{"s":"g","I":5.6e-8,"V":2.4},{"s":"g","I":6.6e-8,"V":2.9},{"s":"g","I":7.2e-8,"V":2.2},{"s":"g","I":8.1e-8,"V":2.84},{"s":"g","I":9.3e-8,"V":1.85},{"s":"g","I":1.05e-7,"V":2.6},{"s":"g","I":1.23e-7,"V":2.35},{"s":"g","I":1.35e-7,"V":1.36},{"s":"g","I":1.6e-7,"V":2.0},{"s":"g","I":2.1e-7,"V":1.53},{"s":"g","I":2.35e-7,"V":2.28},{"s":"g","I":2.9e-7,"V":1.2},{"s":"g","I":3.2e-7,"V":1.8},{"s":"g","I":4e-7,"V":1.0},{"s":"g","I":4.9e-7,"V":1.7},{"s":"g","I":6e-7,"V":0.87},{"s":"g","I":7.4e-7,"V":2.28},{"s":"g","I":8.3e-7,"V":0.78},
{"s":"u","I":9.5e-10,"V":0.15},{"s":"u","I":1.62e-9,"V":0.22},{"s":"u","I":2.5e-9,"V":0.3},{"s":"u","I":3e-9,"V":0.35},{"s":"u","I":3.6e-9,"V":0.3},{"s":"u","I":4.5e-9,"V":0.38},{"s":"u","I":5.75e-9,"V":0.42},{"s":"u","I":7e-9,"V":0.4},{"s":"u","I":8.7e-9,"V":0.51},{"s":"u","I":1.26e-8,"V":0.56},{"s":"u","I":1.6e-8,"V":0.62},{"s":"u","I":2.05e-8,"V":0.71},{"s":"u","I":3.1e-8,"V":0.87},{"s":"u","I":3.8e-8,"V":1.0},{"s":"u","I":4.5e-8,"V":0.68},{"s":"u","I":3.55e-8,"V":0.62},{"s":"u","I":2.5e-8,"V":0.6},{"s":"u","I":1.6e-8,"V":0.52},{"s":"u","I":2e-8,"V":0.65},{"s":"u","I":3.2e-8,"V":0.75},{"s":"u","I":4.8e-8,"V":0.72},{"s":"u","I":5e-8,"V":1.07},{"s":"u","I":8.1e-8,"V":1.13},{"s":"u","I":1.1e-7,"V":1.27},{"s":"u","I":1.5e-7,"V":1.4},{"s":"u","I":2.1e-7,"V":1.46},{"s":"u","I":2.9e-7,"V":1.53},{"s":"u","I":3.55e-7,"V":1.79},{"s":"u","I":4.4e-7,"V":2.02},{"s":"u","I":4.8e-7,"V":2.31},{"s":"u","I":5.4e-7,"V":2.57},{"s":"u","I":6e-7,"V":2.35},{"s":"u","I":6.8e-7,"V":2.87},{"s":"u","I":7.4e-7,"V":1.85},{"s":"u","I":9.1e-7,"V":1.53},{"s":"u","I":1.12e-6,"V":1.2},{"s":"u","I":1.4e-6,"V":1.3},{"s":"u","I":1.74e-6,"V":1.24},{"s":"u","I":2.15e-6,"V":1.4},{"s":"u","I":2.4e-6,"V":2.02},{"s":"u","I":2.5e-6,"V":2.35},{"s":"u","I":2.75e-6,"V":2.67},{"s":"u","I":2.95e-6,"V":1.85},{"s":"u","I":3.2e-6,"V":1.5}
  ],
  "cfit": [
{"s":1,"I":4.9e-11,"V":0.12},{"s":1,"I":8.3e-11,"V":0.22},{"s":1,"I":1.95e-10,"V":0.42},{"s":1,"I":3.6e-10,"V":0.61},{"s":1,"I":6.9e-10,"V":0.94},{"s":1,"I":1.29e-9,"V":1.27},{"s":1,"I":2.45e-9,"V":1.66},{"s":1,"I":4.7e-9,"V":2.05},{"s":1,"I":8.7e-9,"V":2.41},{"s":1,"I":1.66e-8,"V":2.74},{"s":1,"I":3.1e-8,"V":3.0},{"s":1,"I":5.9e-8,"V":3.26},{"s":1,"I":1.23e-7,"V":3.5},
{"s":2,"I":2.35e-9,"V":0.06},{"s":2,"I":4.7e-9,"V":0.15},{"s":2,"I":8.7e-9,"V":0.28},{"s":2,"I":2.05e-8,"V":0.55},{"s":2,"I":3.8e-8,"V":0.87},{"s":2,"I":7.2e-8,"V":1.27},{"s":2,"I":1.38e-7,"V":1.66},{"s":2,"I":2.6e-7,"V":2.05},{"s":2,"I":4.9e-7,"V":2.44},{"s":2,"I":9.1e-7,"V":2.8},{"s":2,"I":1.74e-6,"V":3.16},{"s":2,"I":3e-6,"V":3.5}
  ],
  "carr": [{"I": 4.1e-11, "V": 1.75, "I2": 6.5e-10, "V2": 1.28}, {"I": 7.1e-7, "V": 0.63, "I2": 5.1e-8, "V2": 0.75}],
  "chead": [{"id": 1, "I": 6.5e-10, "V": 1.28}, {"id": 2, "I": 5.1e-8, "V": 0.75}],
  "ctxt": [{"I": 1.35e-11, "V": 2.2, "txt": "Φ=3 eV"}, {"I": 1.62e-7, "V": 0.5, "txt": "Φ=1.3 eV"}],
  "csub": [{"I": 1.26e-11, "V": 1.94, "t": "t", "b": "B", "r": "=2.6nm"}, {"I": 1.45e-7, "V": 0.22, "t": "t", "b": "B", "r": "=2.5nm"}],
  "clab": [{"I": 2.05e-11, "V": 3.3, "txt": "(c)"}]
},
"spacing": 80,
"bounds": "flush",
"vconcat": [
  {
    "width": 495, "height": 367,
    "encoding": {
      "x": {"field": "I", "type": "quantitative", "scale": {"type": "log", "domain": [1e-12, 1e-5]},
        "axis": {"title": "Current (A)", "titleFontSize": 18, "titleX": 247.5, "titleY": 44, "titleBaseline": "middle",
          "values": [1e-12,2e-12,3e-12,4e-12,5e-12,6e-12,7e-12,8e-12,9e-12,1e-11,2e-11,3e-11,4e-11,5e-11,6e-11,7e-11,8e-11,9e-11,1e-10,2e-10,3e-10,4e-10,5e-10,6e-10,7e-10,8e-10,9e-10,1e-9,2e-9,3e-9,4e-9,5e-9,6e-9,7e-9,8e-9,9e-9,1e-8,2e-8,3e-8,4e-8,5e-8,6e-8,7e-8,8e-8,9e-8,1e-7,2e-7,3e-7,4e-7,5e-7,6e-7,7e-7,8e-7,9e-7,1e-6,2e-6,3e-6,4e-6,5e-6,6e-6,7e-6,8e-6,9e-6,1e-5],
          "labelExpr": "abs(log(datum.value)/LN10 - round(log(datum.value)/LN10)) < 0.01 ? '10⁻' + (round(-log(datum.value)/LN10) >= 10 ? '¹' + ['⁰','¹','²','³'][round(-log(datum.value)/LN10) - 10] : ['⁰','¹','²','³','⁴','⁵','⁶','⁷','⁸','⁹'][round(-log(datum.value)/LN10)]) : ''",
          "tickSize": {"condition": {"test": "abs(log(datum.value)/LN10 - round(log(datum.value)/LN10)) < 0.01", "value": 7}, "value": -4},
          "labelFontSize": 15.5, "labelPadding": 6}},
      "y": {"field": "V", "type": "quantitative", "scale": {"domain": [0, 6]},
        "axis": {"title": "Voltage (V)", "titleFontSize": 18.5, "titleX": -42, "titleY": 194, "titleBaseline": "middle",
          "values": [0,0.5,1,1.5,2,2.5,3,3.5,4,4.5,5,5.5,6],
          "labelExpr": "datum.value % 1 == 0 ? format(datum.value, 'd') : ''",
          "tickSize": {"condition": {"test": "datum.value % 1 == 0", "value": 7}, "value": 4},
          "labelFontSize": 15.5, "labelPadding": 5}}
    },
    "layer": [
      {"data": {"name": "a"}, "mark": {"type": "line", "color": "black", "strokeWidth": 1.6, "clip": true}, "encoding": {"detail": {"field": "s"}, "order": {"value": null}}},
      {"data": {"name": "afit"}, "mark": {"type": "line", "color": "#ff1a1a", "strokeWidth": 4, "strokeDash": [20, 9]}, "encoding": {}},
      {"data": {"name": "atxt"}, "mark": {"type": "text", "font": "Liberation Serif", "fontSize": 24, "align": "left", "baseline": "middle", "color": "black"}, "encoding": {"text": {"field": "txt"}}},
      {"data": {"name": "alab"}, "mark": {"type": "text", "fontSize": 18, "align": "left", "baseline": "middle", "color": "black"}, "encoding": {"text": {"field": "txt"}}}
    ]
  },
  {
    "bounds": "flush",
    "spacing": 0,
    "hconcat": [
      {"width": 17, "height": 356, "view": {"stroke": null}, "data": {"values": [{"z": 0}]}, "mark": {"type": "point", "opacity": 0}},
      {
        "bounds": "flush",
        "spacing": 58,
        "hconcat": [
          {
            "width": 218, "height": 356,
            "encoding": {
              "x": {"field": "I", "type": "quantitative", "scale": {"type": "log", "domain": [1e-12, 1e-5]},
                "axis": {"title": "Current (A)", "titleFontSize": 16, "titleX": 109, "titleY": 39, "titleBaseline": "middle",
                  "values": [1e-12,2e-12,3e-12,4e-12,5e-12,6e-12,7e-12,8e-12,9e-12,1e-11,2e-11,3e-11,4e-11,5e-11,6e-11,7e-11,8e-11,9e-11,1e-10,2e-10,3e-10,4e-10,5e-10,6e-10,7e-10,8e-10,9e-10,1e-9,2e-9,3e-9,4e-9,5e-9,6e-9,7e-9,8e-9,9e-9,1e-8,2e-8,3e-8,4e-8,5e-8,6e-8,7e-8,8e-8,9e-8,1e-7,2e-7,3e-7,4e-7,5e-7,6e-7,7e-7,8e-7,9e-7,1e-6,2e-6,3e-6,4e-6,5e-6,6e-6,7e-6,8e-6,9e-6,1e-5],
                  "labelExpr": "abs(log(datum.value)/LN10 - round(log(datum.value)/LN10)) < 0.01 ? '10⁻' + (round(-log(datum.value)/LN10) >= 10 ? '¹' + ['⁰','¹','²','³'][round(-log(datum.value)/LN10) - 10] : ['⁰','¹','²','³','⁴','⁵','⁶','⁷','⁸','⁹'][round(-log(datum.value)/LN10)]) : ''",
                  "tickSize": {"condition": {"test": "abs(log(datum.value)/LN10 - round(log(datum.value)/LN10)) < 0.01", "value": 6}, "value": -3},
                  "labelFontSize": 14, "labelPadding": 6}},
              "y": {"field": "V", "type": "quantitative", "scale": {"domain": [0, 6]},
                "axis": {"title": "Voltage (V)", "titleFontSize": 16, "titleX": -38, "titleY": 186, "titleBaseline": "middle",
                  "values": [0,0.5,1,1.5,2,2.5,3,3.5,4,4.5,5,5.5,6],
                  "labelExpr": "datum.value % 1 == 0 ? format(datum.value, 'd') : ''",
                  "tickSize": {"condition": {"test": "datum.value % 1 == 0", "value": 6}, "value": 3},
                  "labelFontSize": 14, "labelPadding": 5}}
            },
            "layer": [
              {"data": {"name": "b"}, "mark": {"type": "line", "strokeWidth": 1.5, "clip": true}, "encoding": {"color": {"field": "s", "type": "nominal", "scale": {"domain": ["k", "g", "u"], "range": ["#000000", "#1a801a", "#1414ff"]}, "legend": null}, "order": {"value": null}}},
              {"data": {"name": "bfit"}, "mark": {"type": "line", "color": "#ff1010", "strokeWidth": 2, "clip": true}, "encoding": {"detail": {"field": "s"}}},
              {"data": {"name": "barr"}, "mark": {"type": "rule", "color": "black", "strokeWidth": 2}, "encoding": {"x2": {"field": "I2"}, "y2": {"field": "V2"}}},
              {"data": {"name": "bhead"}, "mark": {"type": "point", "shape": "M0,0L-2,-0.75L-2,0.75Z", "filled": true, "color": "black", "opacity": 1, "size": 144, "angle": 31}, "encoding": {}},
              {"data": {"name": "btxt"}, "mark": {"type": "text", "fontSize": 13, "align": "left", "baseline": "middle", "color": "black"}, "encoding": {"text": {"field": "txt"}}},
              {"data": {"name": "bsub"}, "mark": {"type": "text", "fontSize": 13, "align": "left", "baseline": "middle", "color": "black"}, "encoding": {"text": {"field": "t"}}},
              {"data": {"name": "bsub"}, "mark": {"type": "text", "fontSize": 9, "align": "left", "baseline": "middle", "color": "black", "dx": 4, "dy": 4}, "encoding": {"text": {"field": "b"}}},
              {"data": {"name": "bsub"}, "mark": {"type": "text", "fontSize": 13, "align": "left", "baseline": "middle", "color": "black", "dx": 10.5}, "encoding": {"text": {"field": "r"}}},
              {"data": {"name": "blab"}, "mark": {"type": "text", "fontSize": 17, "align": "left", "baseline": "middle", "color": "black"}, "encoding": {"text": {"field": "txt"}}}
            ]
          },
          {
            "width": 218, "height": 356,
            "encoding": {
              "x": {"field": "I", "type": "quantitative", "scale": {"type": "log", "domain": [1e-11, 1e-5]},
                "axis": {"title": "Current (A)", "titleFontSize": 16, "titleX": 109, "titleY": 39, "titleBaseline": "middle",
                  "values": [1e-11,2e-11,3e-11,4e-11,5e-11,6e-11,7e-11,8e-11,9e-11,1e-10,2e-10,3e-10,4e-10,5e-10,6e-10,7e-10,8e-10,9e-10,1e-9,2e-9,3e-9,4e-9,5e-9,6e-9,7e-9,8e-9,9e-9,1e-8,2e-8,3e-8,4e-8,5e-8,6e-8,7e-8,8e-8,9e-8,1e-7,2e-7,3e-7,4e-7,5e-7,6e-7,7e-7,8e-7,9e-7,1e-6,2e-6,3e-6,4e-6,5e-6,6e-6,7e-6,8e-6,9e-6,1e-5],
                  "labelExpr": "abs(log(datum.value)/LN10 - round(log(datum.value)/LN10)) < 0.01 ? '10⁻' + (round(-log(datum.value)/LN10) >= 10 ? '¹' + ['⁰','¹','²','³'][round(-log(datum.value)/LN10) - 10] : ['⁰','¹','²','³','⁴','⁵','⁶','⁷','⁸','⁹'][round(-log(datum.value)/LN10)]) : ''",
                  "tickSize": {"condition": {"test": "abs(log(datum.value)/LN10 - round(log(datum.value)/LN10)) < 0.01", "value": 6}, "value": -3},
                  "labelFontSize": 14, "labelPadding": 6}},
              "y": {"field": "V", "type": "quantitative", "scale": {"domain": [0, 3.5]},
                "axis": {"title": "Voltage (V)", "titleFontSize": 16, "titleX": -37, "titleY": 186, "titleBaseline": "middle",
                  "values": [0,0.5,1,1.5,2,2.5,3],
                  "labelExpr": "datum.value % 1 == 0 ? format(datum.value, 'd') : ''",
                  "tickSize": {"condition": {"test": "datum.value % 1 == 0", "value": 6}, "value": 3},
                  "labelFontSize": 14, "labelPadding": 7}}
            },
            "layer": [
              {"data": {"name": "c"}, "mark": {"type": "line", "strokeWidth": 1.5, "clip": true}, "encoding": {"color": {"field": "s", "type": "nominal", "scale": {"domain": ["k", "g", "u"], "range": ["#000000", "#1a801a", "#1414ff"]}, "legend": null}, "order": {"value": null}}},
              {"data": {"name": "cfit"}, "mark": {"type": "line", "color": "#ff1010", "strokeWidth": 2.5, "clip": true}, "encoding": {"detail": {"field": "s"}}},
              {"data": {"name": "carr"}, "mark": {"type": "rule", "color": "black", "strokeWidth": 2}, "encoding": {"x2": {"field": "I2"}, "y2": {"field": "V2"}}},
              {"data": {"name": "chead"}, "transform": [{"filter": "datum.id == 1"}], "mark": {"type": "point", "shape": "M0,0L-2,-0.75L-2,0.75Z", "filled": true, "color": "black", "opacity": 1, "size": 144, "angle": 48}, "encoding": {}},
              {"data": {"name": "chead"}, "transform": [{"filter": "datum.id == 2"}], "mark": {"type": "point", "shape": "M0,0L-2,-0.75L-2,0.75Z", "filled": true, "color": "black", "opacity": 1, "size": 144, "angle": 196}, "encoding": {}},
              {"data": {"name": "ctxt"}, "mark": {"type": "text", "fontSize": 13, "align": "left", "baseline": "middle", "color": "black"}, "encoding": {"text": {"field": "txt"}}},
              {"data": {"name": "csub"}, "mark": {"type": "text", "fontSize": 13, "align": "left", "baseline": "middle", "color": "black"}, "encoding": {"text": {"field": "t"}}},
              {"data": {"name": "csub"}, "mark": {"type": "text", "fontSize": 9, "align": "left", "baseline": "middle", "color": "black", "dx": 4, "dy": 4}, "encoding": {"text": {"field": "b"}}},
              {"data": {"name": "csub"}, "mark": {"type": "text", "fontSize": 13, "align": "left", "baseline": "middle", "color": "black", "dx": 10.5}, "encoding": {"text": {"field": "r"}}},
              {"data": {"name": "clab"}, "mark": {"type": "text", "fontSize": 17, "align": "left", "baseline": "middle", "color": "black"}, "encoding": {"text": {"field": "txt"}}}
            ]
          }
        ]
      }
    ]
  }
]
}
